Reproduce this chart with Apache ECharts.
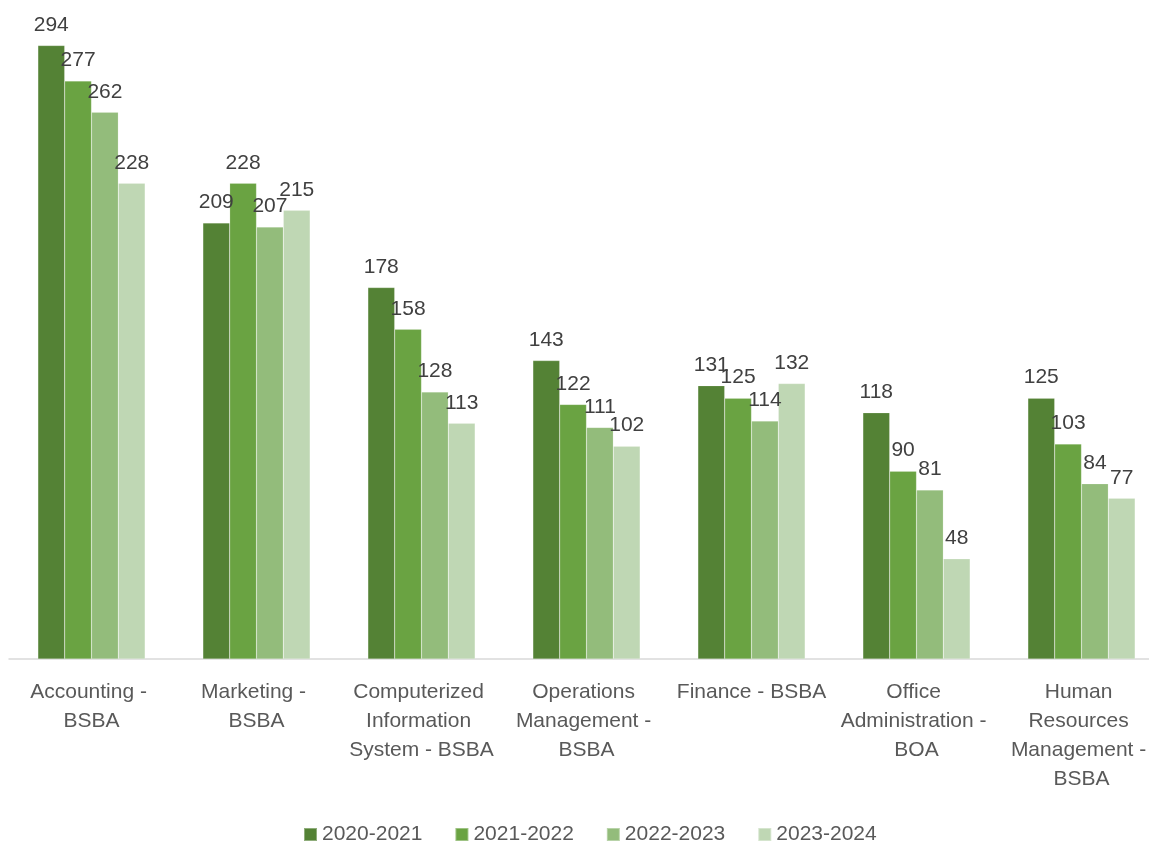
<!DOCTYPE html>
<html>
<head>
<meta charset="utf-8">
<script src="https://cdn.jsdelivr.net/npm/echarts@6/dist/echarts.min.js"></script>
<style>
html,body{margin:0;padding:0;background:#fff;}
#chart{width:1149px;height:841px;}
</style>
</head>
<body>
<div id="chart"></div>
<script>
const categories = [
  "Accounting - BSBA",
  "Marketing - BSBA",
  "Computerized Information System - BSBA",
  "Operations Management - BSBA",
  "Finance - BSBA",
  "Office Administration - BOA",
  "Human Resources Management - BSBA"
];
const seriesNames = ["2020-2021", "2021-2022", "2022-2023", "2023-2024"];
const values2020 = [294, 209, 178, 143, 131, 118, 125];
const values2021 = [277, 228, 158, 122, 125, 90, 103];
const values2022 = [262, 207, 128, 111, 114, 81, 84];
const values2023 = [228, 215, 113, 102, 132, 48, 77];
const colors = ["#548235", "#6AA342", "#93BC7B", "#BFD7B4"];

const FONT = "Liberation Sans";
const allValues = [values2020, values2021, values2022, values2023];

const chart = echarts.init(document.getElementById('chart'), null, {renderer: 'canvas'});
chart.setOption({
  animation: false,
  color: colors,
  grid: {left: 9, width: 1155, top: 33, height: 626, containLabel: false, outerBoundsMode: 'none'},
  legend: {
    data: seriesNames,
    left: 298,
    top: 819,
    itemWidth: 13,
    itemHeight: 13,
    itemGap: 32,
    icon: 'rect',
    textStyle: {fontFamily: FONT, fontSize: 21, color: '#595959'}
  },
  xAxis: {
    type: 'category',
    data: categories,
    axisLine: {show: true, lineStyle: {color: '#d9d9d9', width: 1.5}},
    axisTick: {show: false},
    axisLabel: {
      interval: 0,
      margin: 19,
      width: 155,
      overflow: 'break',
      lineHeight: 29,
      fontFamily: FONT,
      fontSize: 21,
      color: '#595959'
    }
  },
  yAxis: {
    type: 'value',
    min: 0,
    max: 300,
    show: false,
    splitLine: {show: false}
  },
  series: seriesNames.map((name, i) => ({
    name: name,
    type: 'bar',
    data: allValues[i],
    barGap: '0%',
    barCategoryGap: '35%',
    itemStyle: {color: colors[i], borderColor: 'rgba(255,255,255,0.35)', borderWidth: 0.5},
    label: {
      show: true,
      position: 'top',
      distance: 10,
      fontFamily: FONT,
      fontSize: 21,
      color: '#404040'
    }
  }))
});
</script>
</body>
</html>
